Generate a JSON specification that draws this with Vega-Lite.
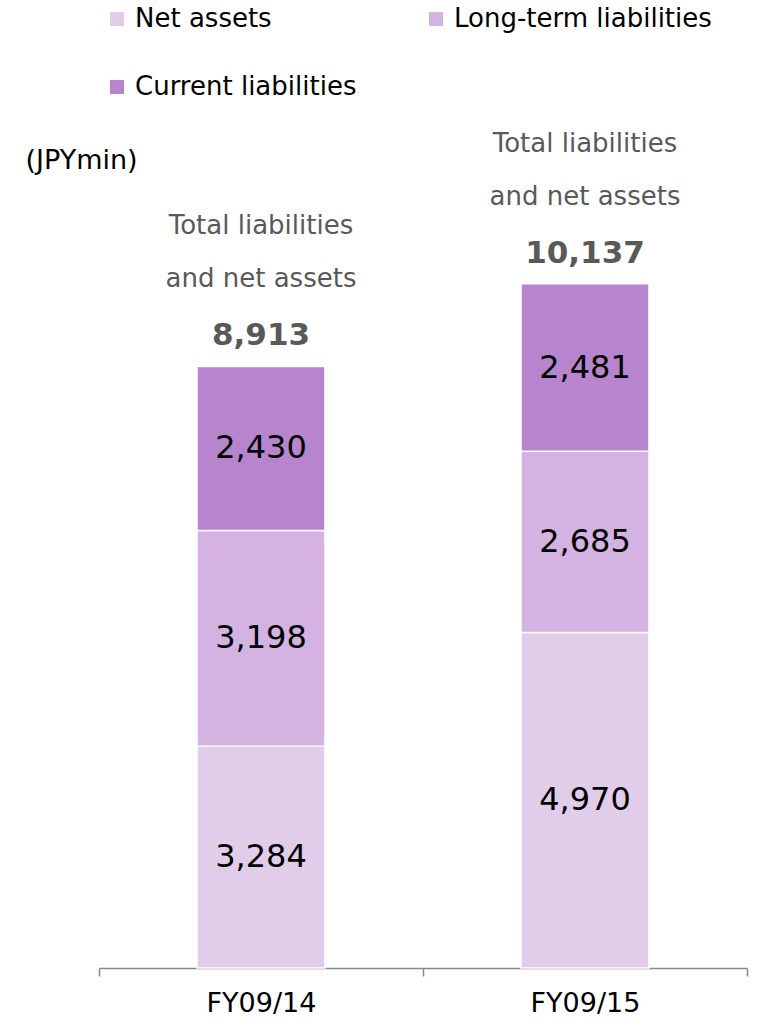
{
  "$schema": "https://vega.github.io/schema/vega-lite/v6.json",
  "autosize": {"type": "none"},
  "width": 648,
  "height": 810,
  "padding": {"left": 99, "top": 158, "right": 11, "bottom": 53},
  "background": "white",
  "config": {"font": "DejaVu Sans", "view": {"stroke": null}},
  "datasets": {
    "parts": [
      {"year": "FY09/14", "item": "Net assets", "order": 1, "value": 3284},
      {"year": "FY09/14", "item": "Long-term liabilities", "order": 2, "value": 3198},
      {"year": "FY09/14", "item": "Current liabilities", "order": 3, "value": 2430},
      {"year": "FY09/15", "item": "Net assets", "order": 1, "value": 4970},
      {"year": "FY09/15", "item": "Long-term liabilities", "order": 2, "value": 2685},
      {"year": "FY09/15", "item": "Current liabilities", "order": 3, "value": 2481}
    ],
    "totals": [
      {"year": "FY09/14", "total": 8913},
      {"year": "FY09/15", "total": 10137}
    ]
  },
  "encoding": {
    "x": {
      "field": "year", "type": "nominal", "sort": null,
      "scale": {"domain": ["FY09/14", "FY09/15"], "paddingInner": 0, "paddingOuter": 0},
      "axis": {
        "title": null, "labelAngle": 0, "labelFontSize": 27, "labelColor": "#000000",
        "labelPadding": 14, "domainColor": "#888888", "domainWidth": 1.5,
        "tickColor": "#888888", "tickWidth": 1.5, "tickSize": 8, "tickBand": "extent"
      }
    }
  },
  "layer": [
    {
      "data": {"name": "parts"},
      "transform": [
        {"stack": "value", "groupby": ["year"], "sort": [{"field": "order", "order": "ascending"}], "as": ["v0", "v1"]}
      ],
      "layer": [
        {
          "mark": {"type": "bar", "width": 128, "stroke": "white", "strokeWidth": 1.5},
          "encoding": {
            "y": {
              "field": "v0", "type": "quantitative",
              "scale": {"domain": [0, 12000], "nice": false},
              "axis": {
                "title": "(JPYmin)", "domain": false, "ticks": false, "labels": false, "grid": false,
                "titleAngle": 0, "titleAlign": "left", "titleBaseline": "middle",
                "titleX": -74, "titleY": 2, "titleFontSize": 27, "titleFontWeight": "normal", "titleColor": "#000000"
              }
            },
            "y2": {"field": "v1"},
            "color": {
              "field": "item", "type": "nominal",
              "scale": {
                "domain": ["Net assets", "Long-term liabilities", "Current liabilities"],
                "range": ["#E1CDEA", "#D4B3E2", "#B685CD"]
              },
              "legend": {
                "title": null, "orient": "none", "legendX": 5, "legendY": -152,
                "direction": "horizontal", "columns": 2, "columnPadding": 66, "rowPadding": 42,
                "symbolType": "square", "symbolSize": 200, "symbolStrokeWidth": 0, "symbolOpacity": 1,
                "labelFontSize": 26, "labelColor": "#000000", "labelOffset": 5, "labelLimit": 0, "padding": 0
              }
            }
          }
        },
        {
          "transform": [
            {"fold": ["v0", "v1"], "as": ["edge", "pos"]}
          ],
          "mark": {"type": "text", "fontSize": 32, "color": "#000000", "baseline": "middle"},
          "encoding": {
            "y": {"field": "pos", "aggregate": "mean", "type": "quantitative"},
            "detail": {"field": "item", "type": "nominal"},
            "text": {"field": "value", "aggregate": "max", "type": "quantitative", "format": ","}
          }
        }
      ]
    },
    {
      "data": {"name": "totals"},
      "layer": [
        {
          "mark": {"type": "text", "fontSize": 31, "fontWeight": "bold", "color": "#595959", "baseline": "middle", "dy": -30},
          "encoding": {
            "y": {"field": "total", "type": "quantitative"},
            "text": {"field": "total", "type": "quantitative", "format": ","}
          }
        },
        {
          "mark": {"type": "text", "fontSize": 26, "color": "#595959", "baseline": "middle", "dy": -87, "text": "and net assets"},
          "encoding": {"y": {"field": "total", "type": "quantitative"}}
        },
        {
          "mark": {"type": "text", "fontSize": 26, "color": "#595959", "baseline": "middle", "dy": -140, "text": "Total liabilities"},
          "encoding": {"y": {"field": "total", "type": "quantitative"}}
        }
      ]
    }
  ]
}
